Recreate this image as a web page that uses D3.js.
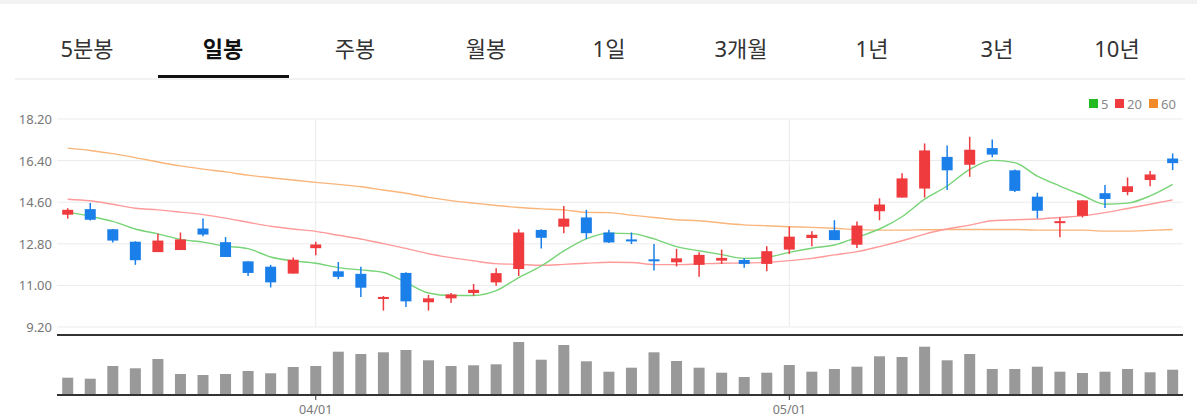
<!DOCTYPE html>
<html><head><meta charset="utf-8">
<script src="https://cdn.jsdelivr.net/npm/d3@7"></script>
<style>body{margin:0;background:#fff;font-family:"Noto Sans","Noto Sans CJK KR",sans-serif;}</style>
</head><body><svg id="c" width="1197" height="418"></svg>
<script>
const tabs=["5분봉","일봉","주봉","월봉","1일","3개월","1년","3년","10년"];
const dates=["03/17","03/18","03/19","03/20","03/23","03/24","03/25","03/26","03/27","03/30","03/31",
"04/01","04/02","04/03","04/06","04/07","04/08","04/09","04/10","04/13","04/14","04/16","04/17","04/20","04/21","04/22","04/23","04/24","04/27","04/28","04/29","04/30",
"05/01","05/04","05/06","05/07","05/08","05/11","05/12","05/13","05/14","05/15","05/18","05/19","05/20","05/21","05/22","05/25","05/26","05/27"];
const open=[14.06,14.30,13.43,12.89,12.44,12.53,13.46,12.87,12.04,11.81,11.51,12.61,11.61,11.50,10.46,11.54,10.27,10.44,10.67,11.13,11.71,13.40,13.54,13.94,
13.29,12.99,12.13,12.00,11.89,12.07,12.10,11.93,12.55,13.05,13.39,12.76,14.21,14.80,15.19,16.56,16.22,16.94,15.98,14.84,13.74,14.01,14.99,15.04,15.56,16.49];
const close=[14.27,13.84,12.94,12.09,12.94,12.99,13.20,12.23,11.54,11.13,12.11,12.77,11.37,10.90,10.50,10.31,10.44,10.61,10.81,11.53,13.29,13.06,13.89,13.26,
12.86,12.95,12.06,12.17,12.32,12.19,11.93,12.48,13.11,13.19,12.96,13.59,14.50,15.63,16.84,15.98,16.87,16.66,15.09,14.23,13.78,14.68,14.74,15.29,15.80,16.29];
const high=[14.34,14.56,13.43,12.91,13.23,13.29,13.89,13.09,12.04,11.89,12.21,12.89,12.01,11.81,10.54,11.57,10.59,10.67,11.06,11.74,13.43,13.43,14.44,14.27,
13.41,13.29,12.79,12.58,12.43,12.55,12.17,12.69,13.55,13.34,13.82,13.77,14.77,15.85,17.14,17.05,17.43,17.31,16.02,15.01,13.94,14.68,15.34,15.67,15.95,16.71];
const low=[13.89,13.81,12.86,11.89,12.44,12.53,13.13,12.23,11.41,10.91,11.51,12.30,11.27,10.50,9.91,10.07,9.91,10.24,10.56,10.99,11.41,12.60,13.26,13.01,
12.83,12.79,11.64,11.82,11.37,11.93,11.76,11.61,12.36,12.69,12.96,12.62,13.82,14.80,14.80,15.13,15.70,16.54,15.04,13.90,13.08,13.94,14.35,14.90,15.29,15.99];
const ma5=[14.17,13.99,13.77,13.44,13.23,12.99,12.87,12.70,12.59,12.23,12.06,11.96,11.77,11.67,11.56,11.13,10.67,10.56,10.56,10.77,11.34,11.84,12.49,13.01,
13.26,13.24,13.01,12.68,12.50,12.33,12.17,12.22,12.43,12.61,12.75,13.08,13.44,13.97,14.73,15.30,16.02,16.41,16.31,15.73,15.30,14.90,14.51,14.56,14.87,15.37];
const ma20=[14.73,14.66,14.51,14.34,14.27,14.17,14.06,13.91,13.73,13.56,13.44,13.34,13.17,13.01,12.81,12.60,12.37,12.20,12.06,11.94,11.91,11.87,11.91,11.96,
12.00,11.99,11.90,11.90,11.93,11.96,11.97,12.00,12.07,12.17,12.32,12.46,12.68,12.93,13.22,13.44,13.61,13.80,13.84,13.87,13.94,14.01,14.15,14.33,14.51,14.70];
const ma60=[16.94,16.84,16.70,16.53,16.34,16.17,16.03,15.91,15.77,15.66,15.56,15.46,15.37,15.27,15.13,14.99,14.81,14.67,14.56,14.46,14.37,14.31,14.27,14.16,
14.15,14.04,13.94,13.84,13.80,13.70,13.62,13.58,13.54,13.51,13.47,13.42,13.39,13.39,13.41,13.42,13.42,13.42,13.42,13.39,13.39,13.39,13.35,13.35,13.38,13.42];
const volume=[17.3,16.3,29,26.7,36,21,20,21,24,21.7,28,29,43.3,41,42.7,45,34.7,29,29.7,30.7,53,35.3,50,33.7,
23.3,27.3,42.7,34,27.3,22.3,18,22.3,30,23.3,26,28.3,38.7,38,48.3,34.7,41,26,26,28.3,23.3,22,23.3,26,22.7,25.3];
const yTicks=[9.2,11.0,12.8,14.6,16.4,18.2];
const xTickLabels=["04/01","05/01"];
const maNames=["5","20","60"];

const svg=d3.select("#c");
svg.append("rect").attr("x",0).attr("y",0).attr("width",1197).attr("height",4).attr("fill","#f2f2f2");
const tabCenters=[87,223,355,486,609,741,872,997,1117];
tabs.forEach((t,i)=>{
  svg.append("text").attr("x",tabCenters[i]).attr("y",57).attr("text-anchor","middle")
   .attr("font-size",22).attr("font-weight",t==="일봉"?700:400).attr("fill",t==="일봉"?"#111":"#333").text(t);
});
svg.append("line").attr("x1",15).attr("x2",1185).attr("y1",79).attr("y2",79).attr("stroke","#e4e4e4");
svg.append("rect").attr("x",158).attr("y",75).attr("width",131).attr("height",3).attr("fill","#111");

const x=d3.scalePoint().domain(dates).range([67.7,67.7+49*22.55]);
const y=d3.scaleLinear().domain([9.2,18.2]).range([327,119]);
const L=57,R=1183;
yTicks.forEach(v=>{
  svg.append("line").attr("x1",L).attr("x2",R).attr("y1",y(v)).attr("y2",y(v)).attr("stroke","#ebebeb");
  svg.append("text").attr("x",52).attr("y",y(v)+5).attr("text-anchor","end").attr("font-size",13).attr("fill","#777").text(v.toFixed(2));
});
xTickLabels.forEach(d=>{
  svg.append("line").attr("x1",x(d)).attr("x2",x(d)).attr("y1",119).attr("y2",327).attr("stroke","#ebebeb");
});
const line=d3.line().x((d,i)=>x(dates[i])).y(d=>y(d)).curve(d3.curveMonotoneX);
[[ma60,"#f9b57a"],[ma20,"#ff9a9a"],[ma5,"#77d477"]].forEach(([a,c])=>{
  svg.append("path").attr("d",line(a)).attr("fill","none").attr("stroke",c).attr("stroke-width",1.4);
});
const RED="#ef3a3e",BLUE="#1a7fe8";
dates.forEach((d,i)=>{
  const up=close[i]>=open[i], c=up?RED:BLUE, cx=x(d);
  svg.append("line").attr("x1",cx).attr("x2",cx).attr("y1",y(high[i])).attr("y2",y(low[i])).attr("stroke",c).attr("stroke-width",1.5);
  const t=y(Math.max(open[i],close[i])), b=y(Math.min(open[i],close[i]));
  svg.append("rect").attr("x",cx-5.5).attr("width",11).attr("y",t).attr("height",Math.max(2,b-t)).attr("fill",c);
});
const lgColors=["#22bb22","#ef3a3e","#f28a2a"];
let lx=1089;
maNames.forEach((t,i)=>{
  svg.append("rect").attr("x",lx).attr("y",99).attr("width",9).attr("height",9).attr("fill",lgColors[i]);
  svg.append("text").attr("x",lx+12).attr("y",108.5).attr("font-size",13).attr("fill","#888").text(t);
  lx+=12+t.length*8+6;
});
svg.append("line").attr("x1",L).attr("x2",R).attr("y1",335).attr("y2",335).attr("stroke","#333").attr("stroke-width",2);
const yv=d3.scaleLinear().domain([0,57]).range([395,338]);
dates.forEach((d,i)=>{
  svg.append("rect").attr("x",x(d)-5.5).attr("width",11).attr("y",yv(volume[i])).attr("height",395-yv(volume[i])).attr("fill","#999");
});
svg.append("line").attr("x1",L).attr("x2",R).attr("y1",395).attr("y2",395).attr("stroke","#333").attr("stroke-width",2);
xTickLabels.forEach(d=>{
  svg.append("line").attr("x1",x(d)).attr("x2",x(d)).attr("y1",395).attr("y2",400).attr("stroke","#333");
  svg.append("text").attr("x",x(d)).attr("y",414).attr("text-anchor","middle").attr("font-size",12.5).attr("fill","#777").text(d);
});
</script></body></html>
